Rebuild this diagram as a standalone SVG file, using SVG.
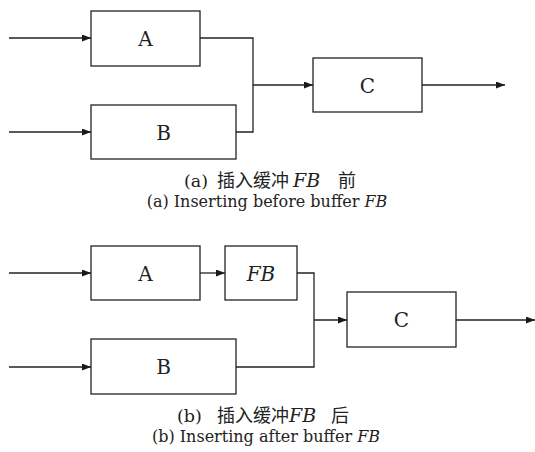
<svg xmlns="http://www.w3.org/2000/svg" width="535" height="452" viewBox="0 0 535 452">
<defs>
<marker id="ah" markerWidth="9" markerHeight="7" refX="9" refY="3.5" orient="auto" markerUnits="userSpaceOnUse">
<path d="M0,0 L9,3.5 L0,7 Z" fill="#1a1a1a"/>
</marker>
<style>
.box{fill:#fff;stroke:#222;stroke-width:1.3}
.ln{fill:none;stroke:#222;stroke-width:1.3}
.lbl{font-family:"DejaVu Serif","Liberation Serif",serif;font-size:20px;fill:#222;text-anchor:middle}
.cap{font-family:"DejaVu Serif","Noto Sans CJK SC",serif;font-size:16px;fill:#222;text-anchor:middle}
.cap1{font-family:"DejaVu Serif","Noto Sans CJK SC",serif;font-size:17.5px;fill:#222}
.cjk{font-family:"Noto Sans CJK SC",sans-serif;font-size:18px}
.fb{font-style:italic;font-size:19px}
.it{font-style:italic}
</style>
</defs>
<rect width="535" height="452" fill="#fff"/>
<g id="connectors">
<path class="ln" d="M9,38 H91" marker-end="url(#ah)"/>
<path class="ln" d="M9,132 H91" marker-end="url(#ah)"/>
<path class="ln" d="M200,38 H253 V132 H236"/>
<path class="ln" d="M253,85 H313" marker-end="url(#ah)"/>
<path class="ln" d="M422,85 H505" marker-end="url(#ah)"/>
<path class="ln" d="M9,273 H91" marker-end="url(#ah)"/>
<path class="ln" d="M9,367 H91" marker-end="url(#ah)"/>
<path class="ln" d="M200,273 H225" marker-end="url(#ah)"/>
<path class="ln" d="M297,273 H314 V367 H236"/>
<path class="ln" d="M314,320 H347" marker-end="url(#ah)"/>
<path class="ln" d="M456,320 H535" marker-end="url(#ah)"/>
</g>
<g id="nodeA1"><rect class="box" x="91" y="11" width="109" height="55"/><text class="lbl" x="145.5" y="46">A</text></g>
<g id="nodeB1"><rect class="box" x="91" y="105" width="145" height="54"/><text class="lbl" x="163.5" y="140">B</text></g>
<g id="nodeC1"><rect class="box" x="313" y="58" width="109" height="54"/><text class="lbl" x="367.5" y="93">C</text></g>
<g id="nodeA2"><rect class="box" x="91" y="246" width="109" height="54"/><text class="lbl" x="145.5" y="281">A</text></g>
<g id="nodeFB"><rect class="box" x="225" y="246" width="72" height="54"/><text class="lbl it" x="261" y="281">FB</text></g>
<g id="nodeB2"><rect class="box" x="91" y="339" width="145" height="55"/><text class="lbl" x="163.5" y="374">B</text></g>
<g id="nodeC2"><rect class="box" x="347" y="292" width="109" height="55"/><text class="lbl" x="401.5" y="327">C</text></g>
<g id="captions">
<text class="cap1" y="187"><tspan x="184">(a)</tspan> <tspan class="cjk" x="217">插入缓冲</tspan><tspan class="fb" x="293">FB</tspan> <tspan class="cjk" x="338">前</tspan></text>
<text class="cap" x="267" y="207">(a) Inserting before buffer <tspan class="it">FB</tspan></text>
<text class="cap1" y="422"><tspan x="177">(b)</tspan> <tspan class="cjk" x="217">插入缓冲</tspan><tspan class="fb" x="289">FB</tspan> <tspan class="cjk" x="331">后</tspan></text>
<text class="cap" x="266" y="442">(b) Inserting after buffer <tspan class="it">FB</tspan></text>
</g>
</svg>
